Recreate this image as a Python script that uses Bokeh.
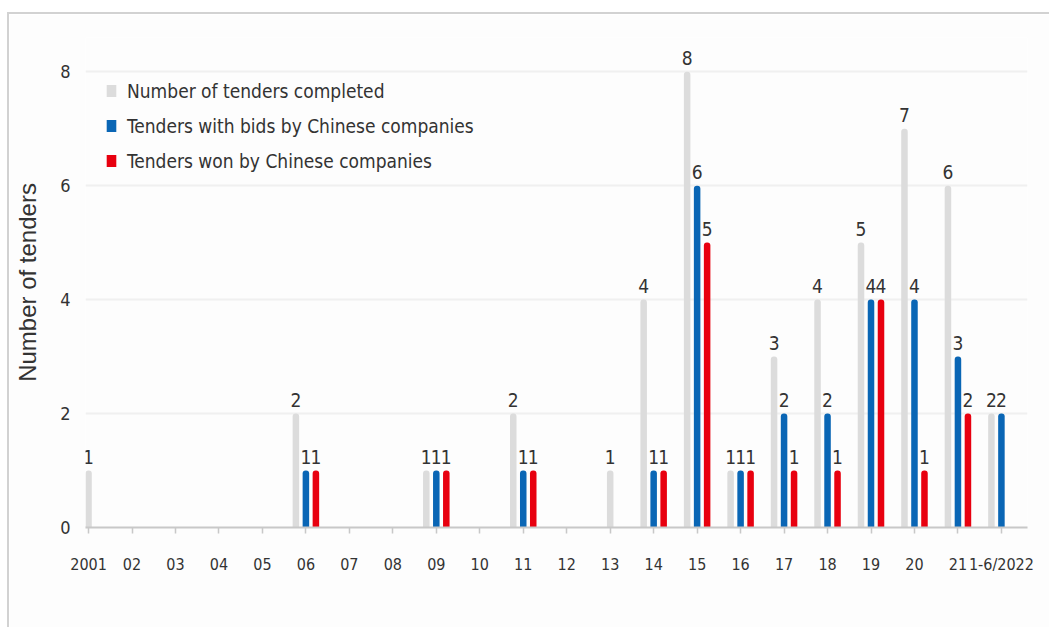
from bokeh.plotting import figure
from bokeh.models import Range1d, FixedTicker, Legend, LegendItem, ColumnDataSource
from bokeh.core.properties import value
from bokeh.embed import file_html
from bokeh.resources import INLINE

categories = ["2001", "02", "03", "04", "05", "06", "07", "08", "09", "10", "11",
              "12", "13", "14", "15", "16", "17", "18", "19", "20", "21", "1-6/2022"]
completed = [1, 0, 0, 0, 0, 2, 0, 0, 1, 0, 2, 0, 1, 4, 8, 1, 3, 4, 5, 7, 6, 2]
bids      = [0, 0, 0, 0, 0, 1, 0, 0, 1, 0, 1, 0, 0, 1, 6, 1, 2, 2, 4, 4, 3, 2]
won       = [0, 0, 0, 0, 0, 1, 0, 0, 1, 0, 1, 0, 0, 1, 5, 1, 1, 1, 4, 1, 2, 0]
series_names = ["Number of tenders completed",
                "Tenders with bids by Chinese companies",
                "Tenders won by Chinese companies"]
y_ticks = [0, 2, 4, 6, 8]

GREY, BLUE, RED = "#dcdcdc", "#0a66b5", "#e8000f"
TXT = "#333333"
NARROW_S = "DejaVu Sans Condensed"
NARROW = value(NARROW_S)
OFF = 0.23
BW = 0.15

idx = list(range(len(categories)))

def series_src(vals, offsets):
    xs, ys, ts = [], [], []
    for i, v in enumerate(vals):
        if v:
            xs.append(i + offsets[i])
            ys.append(v)
            ts.append(str(v))
    return ColumnDataSource(dict(x=xs, top=ys, label=ts))

grey_off = [0.0 if (bids[i] == 0 and won[i] == 0) else -OFF for i in idx]
blue_off = [0.0 for _ in idx]
red_off = [OFF for _ in idx]

p = figure(width=1042, height=615,
           x_range=Range1d(-0.07, 21.6), y_range=Range1d(0, 8.6),
           output_backend="svg", toolbar_location=None,
           min_border_left=76, min_border_right=24,
           min_border_top=23, min_border_bottom=102)
p.margin = (12, 0, 0, 7)
p.styles = {"border-top": "2px solid #d2d2d2", "border-left": "2px solid #d2d2d2"}
p.outline_line_color = None
p.background_fill_color = "#fdfdfd"
p.border_fill_color = "#fdfdfd"

renderers = []
for vals, offs, col in [(completed, grey_off, GREY), (bids, blue_off, BLUE), (won, red_off, RED)]:
    src = series_src(vals, offs)
    r = p.vbar(x="x", top="top", bottom=0, width=BW, source=src,
               fill_color=col, line_color=None, border_radius=(3, 3, 0, 0))
    renderers.append(r)
    p.text(x="x", y="top", text="label", source=src, text_align="center",
           text_baseline="bottom", y_offset=-7, text_font=NARROW,
           text_font_size="19px", text_color=TXT)

p.xaxis.ticker = FixedTicker(ticks=idx)
p.xaxis.major_label_overrides = {i: c for i, c in zip(idx, categories)}
p.xaxis.axis_line_color = "#c8c8c8"
p.xaxis.axis_line_width = 2
p.xaxis.major_tick_line_color = "#c8c8c8"
p.xaxis.major_tick_line_width = 1.5
p.xaxis.major_tick_out = 6
p.xaxis.major_tick_in = 0
p.xaxis.minor_tick_line_color = None
p.xaxis.major_label_text_font = NARROW_S
p.xaxis.major_label_text_font_size = "16px"
p.xaxis.major_label_text_color = TXT
p.xaxis.major_label_standoff = 21

p.yaxis.ticker = FixedTicker(ticks=y_ticks)
p.yaxis.axis_line_color = None
p.yaxis.major_tick_line_color = None
p.yaxis.minor_tick_line_color = None
p.yaxis.major_label_text_font = NARROW_S
p.yaxis.major_label_text_font_size = "18px"
p.yaxis.major_label_text_color = TXT
p.yaxis.major_label_standoff = 9
p.yaxis.axis_label = "Number of tenders"
p.yaxis.axis_label_text_font = "Liberation Sans"
p.yaxis.axis_label_text_font_style = "normal"
p.yaxis.axis_label_text_font_size = "24px"
p.yaxis.axis_label_text_color = TXT
p.yaxis.axis_label_standoff = 16

p.xgrid.grid_line_color = None
p.ygrid.ticker = FixedTicker(ticks=y_ticks)
p.ygrid.grid_line_color = "#f0f0f0"
p.ygrid.grid_line_width = 2

legend = Legend(items=[LegendItem(label=n, renderers=[r]) for n, r in zip(series_names, renderers)],
                location=(20, 354))
legend.background_fill_alpha = 0
legend.border_line_color = None
legend.padding = 0
legend.margin = 0
legend.spacing = 10
legend.glyph_width = 12
legend.glyph_height = 15
legend.label_height = 25
legend.label_standoff = 10
legend.label_text_font = NARROW_S
legend.label_text_font_size = "19px"
legend.label_text_color = TXT
p.add_layout(legend)

open("out.html", "w").write(file_html(p, INLINE))
